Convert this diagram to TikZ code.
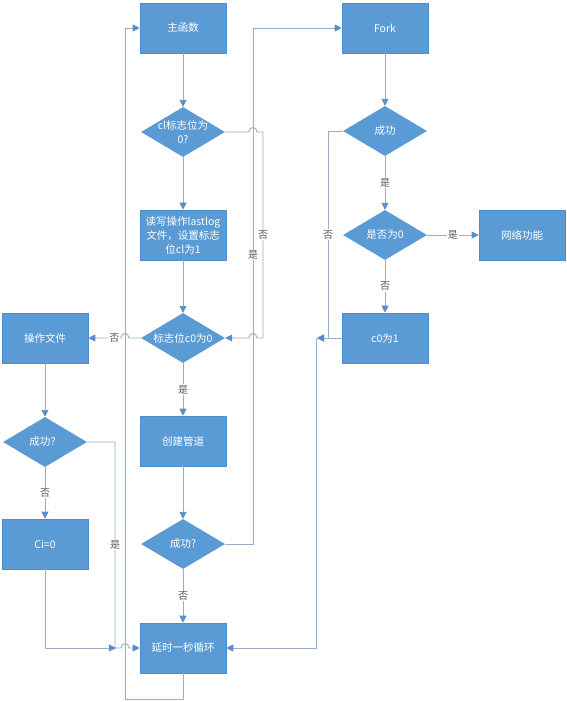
\documentclass[tikz,border=0pt]{standalone}
\usepackage{fontspec}
\setmainfont{Noto Sans CJK SC}
\usetikzlibrary{shapes.geometric,arrows.meta}
\definecolor{boxblue}{HTML}{5B9BD5}
\definecolor{boxedge}{HTML}{4F8CCB}
\definecolor{linec}{HTML}{98AEC8}
\definecolor{arrowc}{HTML}{5A8DC8}
\definecolor{labc}{HTML}{5A5A5A}
\tikzset{
 box/.style={rectangle, fill=boxblue, draw=boxedge, line width=0.6pt, minimum width=86pt, minimum height=50pt, inner sep=0pt, text=white, font=\fontsize{10.5}{14}\selectfont, align=center},
 dia/.style={diamond, fill=boxblue, draw=none, minimum width=84pt, minimum height=50pt, inner sep=0pt},
 dtext/.style={text=white, font=\fontsize{10.5}{14}\selectfont, align=center, inner sep=0pt},
 conn/.style={draw=linec, line width=0.9pt},
 arr/.style={conn, -{Triangle[length=7pt,width=7pt,color=arrowc]}},
 lab/.style={fill=white, text=labc, font=\fontsize{10}{12}\selectfont, inner sep=1pt},
}
\begin{document}
\begin{tikzpicture}[x=1pt,y=-1pt]
\useasboundingbox (0,0) rectangle (567,702);
% main column
\node[box] (main) at (183,28) {主函数};
\node[dia] (d1) at (183,132) {};
\node[dtext] (d1t) at (d1.center) {cl标志位为\\0?};
\node[box] (rw) at (183,235) {读写操作lastlog\\文件，设置标志\\位cl为1};
\node[dia] (d2) at (183,338) {};
\node[dtext] (d2t) at (d2.center) {标志位c0为0};
\node[box] (pipe) at (183,441) {创建管道};
\node[dia] (d3) at (183,544) {};
\node[dtext] (d3t) at (d3.center) {成功?};
\node[box] (delay) at (183,648) {延时一秒循环};
% left column
\node[box] (op) at (45,338) {操作文件};
\node[dia] (d4) at (45,442) {};
\node[dtext] (d4t) at (d4.center) {成功？};
\node[box] (ci) at (45,544) {Ci=0};
% right column
\node[box] (fork) at (385,28) {Fork};
\node[dia] (d5) at (385,131) {};
\node[dtext] (d5t) at (d5.center) {成功};
\node[dia] (d6) at (385,235) {};
\node[dtext] (d6t) at (d6.center) {是否为0};
\node[box] (net) at (522,235) {网络功能};
\node[box] (c01) at (385,338) {c0为1};
\coordinate (m) at (317,338);
\coordinate (m2) at (316,338);
\coordinate (j) at (116,648);
\coordinate (k) at (316,648);

% main column connectors
\draw[arr] (main.south) -- (d1.north);
\draw[arr] (d1.south) -- (rw.north);
\draw[arr] (rw.south) -- (d2.north);
\draw[arr] (d2.south) -- node[lab]{是} (pipe.north);
\draw[arr] (pipe.south) -- (d3.north);
\draw[arr] (d3.south) -- node[lab]{否} (delay.north);
% cl = no branch
\draw[arr] (d1.east) -- (249,132) .. controls (249,126) and (257,126) .. (257,132) -- (263,132)
  -- node[lab]{否} (263,338) -- (257,338) .. controls (257,332) and (249,332) .. (249,338) -- (d2.east);
% success -> fork
\draw[arr] (d3.east) -- (253,544) -- node[lab,pos=0.56]{是} (253,28) -- (fork.west);
% c0 no -> operate file
\draw[arr] (d2.west) -- (129,338) .. controls (129,332) and (121,332) .. (121,338) -- node[lab,pos=0.2]{否} (op.east);
% loop back
\draw[arr] (delay.south) -- (183,699) -- (125,699) -- (125,28) -- (main.west);
% left column
\draw[arr] (op.south) -- (d4.north);
\draw[arr] (d4.south) -- node[lab]{否} (ci.north);
\draw[arr] (d4.east) -- (115,442) -- node[lab]{是} (115,648) -- (121,648) .. controls (121,642) and (129,642) .. (129,648) -- (delay.west);
\draw[arr] (ci.south) -- (45,648) -- (j);
% right column
\draw[arr] (fork.south) -- (d5.north);
\draw[arr] (d5.south) -- node[lab]{是} (d6.north);
\draw[arr] (d6.east) -- node[lab]{是} (net.west);
\draw[arr] (d6.south) -- node[lab]{否} (c01.north);
\draw[arr] (d5.west) -- (328,131) -- node[lab]{否} (328,338) -- (m);
\draw[arr] (c01.west) -- (m);
\draw[arr] (m2) -- (k) -- (delay.east);
\end{tikzpicture}
\end{document}
